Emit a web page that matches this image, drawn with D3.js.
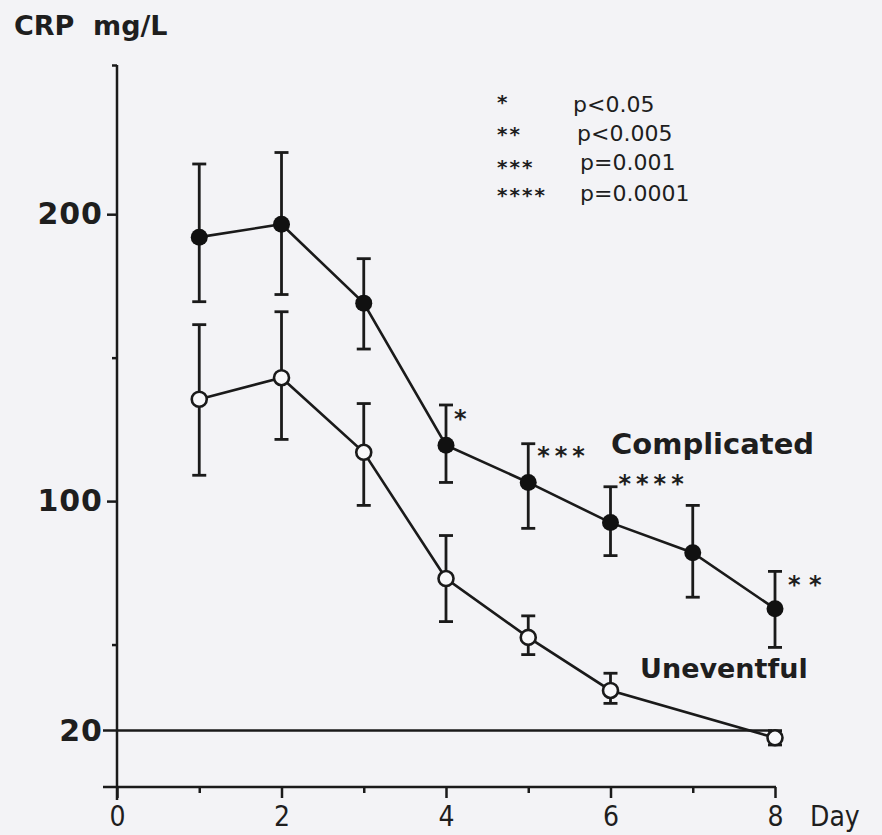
<!DOCTYPE html>
<html>
<head>
<meta charset="utf-8">
<script src="https://cdn.jsdelivr.net/npm/d3@7"></script>
<style>
  body { margin: 0; background: #f3f3f6; }
  svg { display: block; }
  text { fill: #1e1e1e; }
</style>
</head>
<body>
<div id="chart"></div>
<script>
// Days of measurement
const daysComplicated = [1, 2, 3, 4, 5, 6, 7, 8];
const daysUneventful = [1, 2, 3, 4, 5, 6, 8];

// CRP means and error bar ends (mg/L)
const crpComplicated = [192, 196.5, 169, 119.5, 106.5, 92.5, 82, 62.5];
const crpComplicatedHi = [217.5, 221.5, 184.5, 133.5, 120, 105, 98.5, 75.5];
const crpComplicatedLo = [169.5, 172, 153, 106.5, 90.5, 81, 66.5, 49];

const crpUneventful = [135.5, 143, 117, 73, 52.5, 34, 17.5];
const crpUneventfulHi = [161.5, 166, 134, 88, 60, 40, 20];
const crpUneventfulLo = [109, 121.5, 98.5, 58, 46.5, 29.5, 15];

// significance marks by day
const sigDays = [4, 5, 6, 8];
const sigMarks = ["*", "***", "****", "* *"];

// legend
const legendStars = ["*", "**", "***", "****"];
const legendTexts = ["p<0.05", "p<0.005", "p=0.001", "p=0.0001"];

const yLabelTicks = [100, 200];
const yMinorTicks = [50, 150, 252];
const refLevel = 20;
const xMajorTicks = [0, 2, 4, 6, 8];
const xMinorTicks = [1, 3, 5, 7];

const W = 882, H = 835;
const ink = "#1a1a1a";

const svg = d3.select("#chart").append("svg")
    .attr("width", W)
    .attr("height", H);

const x = d3.scaleLinear().domain([0, 8]).range([117, 775]);
const y = d3.scaleLinear().domain([0, 252]).range([788, 65]);

// y axis
const yAxis = svg.append("g")
    .attr("transform", `translate(${x(0)},0)`)
    .call(d3.axisLeft(y).tickValues(yLabelTicks).tickSize(10).tickSizeOuter(0).tickPadding(4));
yAxis.select(".domain").remove();
yAxis.selectAll("line").attr("stroke", ink).attr("stroke-width", 2.5);
yAxis.selectAll("text")
    .style("font-family", "DejaVu Sans")
    .style("font-weight", "bold")
    .style("font-size", "30px")
    .style("letter-spacing", "1px")
    .attr("fill", "#2a2a2a");

const yMinor = svg.append("g")
    .attr("transform", `translate(${x(0)},0)`)
    .call(d3.axisLeft(y).tickValues(yMinorTicks).tickSize(5).tickSizeOuter(0).tickFormat(""));
yMinor.select(".domain").remove();
yMinor.selectAll("line").attr("stroke", ink).attr("stroke-width", 2.5);

svg.append("line")
    .attr("x1", x(0)).attr("x2", x(0))
    .attr("y1", y(0) + 12).attr("y2", y(252))
    .attr("stroke", ink).attr("stroke-width", 2.5);

// reference line at 20 mg/L, with its label
svg.append("line")
    .attr("x1", 103).attr("x2", 772)
    .attr("y1", y(refLevel)).attr("y2", y(refLevel))
    .attr("stroke", ink).attr("stroke-width", 2.5);
svg.append("text")
    .attr("x", 103).attr("y", y(refLevel))
    .attr("dy", "0.36em")
    .attr("text-anchor", "end")
    .style("font-family", "DejaVu Sans")
    .style("font-weight", "bold")
    .style("font-size", "30px")
    .style("letter-spacing", "1px")
    .attr("fill", "#2a2a2a")
    .text(refLevel);

// x axis
const xFont = "'Liberation Sans Narrow', 'DejaVu Sans Condensed', 'Liberation Sans', sans-serif";
const xAxis = svg.append("g")
    .attr("transform", `translate(0,${y(0) - 1})`)
    .call(d3.axisBottom(x).tickValues(xMajorTicks).tickSize(11).tickSizeOuter(0));
xAxis.select(".domain").remove();
xAxis.selectAll("line").attr("stroke", ink).attr("stroke-width", 2.5);
xAxis.selectAll("text")
    .attr("y", 39).attr("dy", 0)
    .style("font-family", xFont)
    .style("font-size", "28px")
    .attr("fill", "#2a2a2a");

const xMinor = svg.append("g")
    .attr("transform", `translate(0,${y(0) - 1})`)
    .call(d3.axisBottom(x).tickValues(xMinorTicks).tickSize(6).tickSizeOuter(0).tickFormat(""));
xMinor.select(".domain").remove();
xMinor.selectAll("line").attr("stroke", ink).attr("stroke-width", 2.5);

svg.append("line")
    .attr("x1", 103).attr("x2", x(8) + 1)
    .attr("y1", y(0) - 1).attr("y2", y(0) - 1)
    .attr("stroke", ink).attr("stroke-width", 2.5);

svg.append("text")
    .attr("x", 810).attr("y", y(0) + 38)
    .style("font-family", xFont)
    .style("font-size", "28px")
    .attr("fill", "#2a2a2a")
    .text("Day");

// axis title
svg.append("text")
    .attr("x", 14).attr("y", 35)
    .style("font-family", "DejaVu Sans")
    .style("font-weight", "bold")
    .style("font-size", "27px")
    .text("CRP");
svg.append("text")
    .attr("x", 93).attr("y", 35)
    .style("font-family", "DejaVu Sans")
    .style("font-weight", "bold")
    .style("font-size", "27px")
    .text("mg/L");

// build series
const complicated = daysComplicated.map((d, i) => ({
    day: d, v: crpComplicated[i], hi: crpComplicatedHi[i], lo: crpComplicatedLo[i]
}));
const uneventful = daysUneventful.map((d, i) => ({
    day: d, v: crpUneventful[i], hi: crpUneventfulHi[i], lo: crpUneventfulLo[i]
}));

const line = d3.line().x(d => x(d.day)).y(d => y(d.v));

function drawErrorBars(data) {
    const g = svg.append("g").attr("stroke", ink).attr("stroke-width", 2.8);
    g.selectAll(".bar").data(data).enter().append("line")
        .attr("x1", d => x(d.day)).attr("x2", d => x(d.day))
        .attr("y1", d => y(d.hi)).attr("y2", d => y(d.lo));
    g.selectAll(".capHi").data(data).enter().append("line")
        .attr("x1", d => x(d.day) - 7).attr("x2", d => x(d.day) + 7)
        .attr("y1", d => y(d.hi)).attr("y2", d => y(d.hi));
    g.selectAll(".capLo").data(data).enter().append("line")
        .attr("x1", d => x(d.day) - 7).attr("x2", d => x(d.day) + 7)
        .attr("y1", d => y(d.lo)).attr("y2", d => y(d.lo));
}

drawErrorBars(complicated);
drawErrorBars(uneventful);

svg.append("path").datum(complicated)
    .attr("d", line).attr("fill", "none")
    .attr("stroke", ink).attr("stroke-width", 2.6);
svg.append("path").datum(uneventful)
    .attr("d", line).attr("fill", "none")
    .attr("stroke", ink).attr("stroke-width", 2.6);

svg.selectAll(".dotC").data(complicated).enter().append("circle")
    .attr("cx", d => x(d.day)).attr("cy", d => y(d.v))
    .attr("r", 8.5).attr("fill", "#111");
svg.selectAll(".dotU").data(uneventful).enter().append("circle")
    .attr("cx", d => x(d.day)).attr("cy", d => y(d.v))
    .attr("r", 7.5).attr("fill", "#f8f8fa")
    .attr("stroke", ink).attr("stroke-width", 2.6);

// significance stars next to the Complicated curve (offset from the upper cap)
const sigOffsets = [[8, 22], [9, 20], [8, 5], [13, 22]];
const sigSpacing = [0, 5, 5, 0];
sigDays.forEach((d, i) => {
    const p = complicated.find(c => c.day === d);
    svg.append("text")
        .attr("x", x(d) + sigOffsets[i][0])
        .attr("y", y(p.hi) + sigOffsets[i][1])
        .style("font-family", "DejaVu Sans")
        .style("font-weight", "bold")
        .style("font-size", "24px")
        .style("letter-spacing", sigSpacing[i] + "px")
        .text(sigMarks[i]);
});

// series labels
svg.append("text")
    .attr("x", 611).attr("y", 454)
    .style("font-family", "DejaVu Sans")
    .style("font-weight", "bold")
    .style("font-size", "29px")
    .attr("fill", "#262626")
    .text("Complicated");
svg.append("text")
    .attr("x", 640).attr("y", 678)
    .style("font-family", "DejaVu Sans")
    .style("font-weight", "bold")
    .style("font-size", "27px")
    .attr("fill", "#262626")
    .text("Uneventful");

// significance legend
const legendY = [112, 141, 170, 201];
const legendStarY = [109, 141, 174, 202];
const legendX = [573, 577, 580, 580];
legendStars.forEach((s, i) => {
    svg.append("text")
        .attr("x", 497).attr("y", legendStarY[i])
        .style("font-family", "DejaVu Sans")
        .style("font-weight", "bold")
        .style("font-size", "20px")
        .style("letter-spacing", "2px")
        .text(s);
    svg.append("text")
        .attr("x", legendX[i]).attr("y", legendY[i])
        .style("font-family", "DejaVu Sans")
        .style("font-size", "22px")
        .attr("fill", "#2a2a2a")
        .text(legendTexts[i]);
});
</script>
</body>
</html>
